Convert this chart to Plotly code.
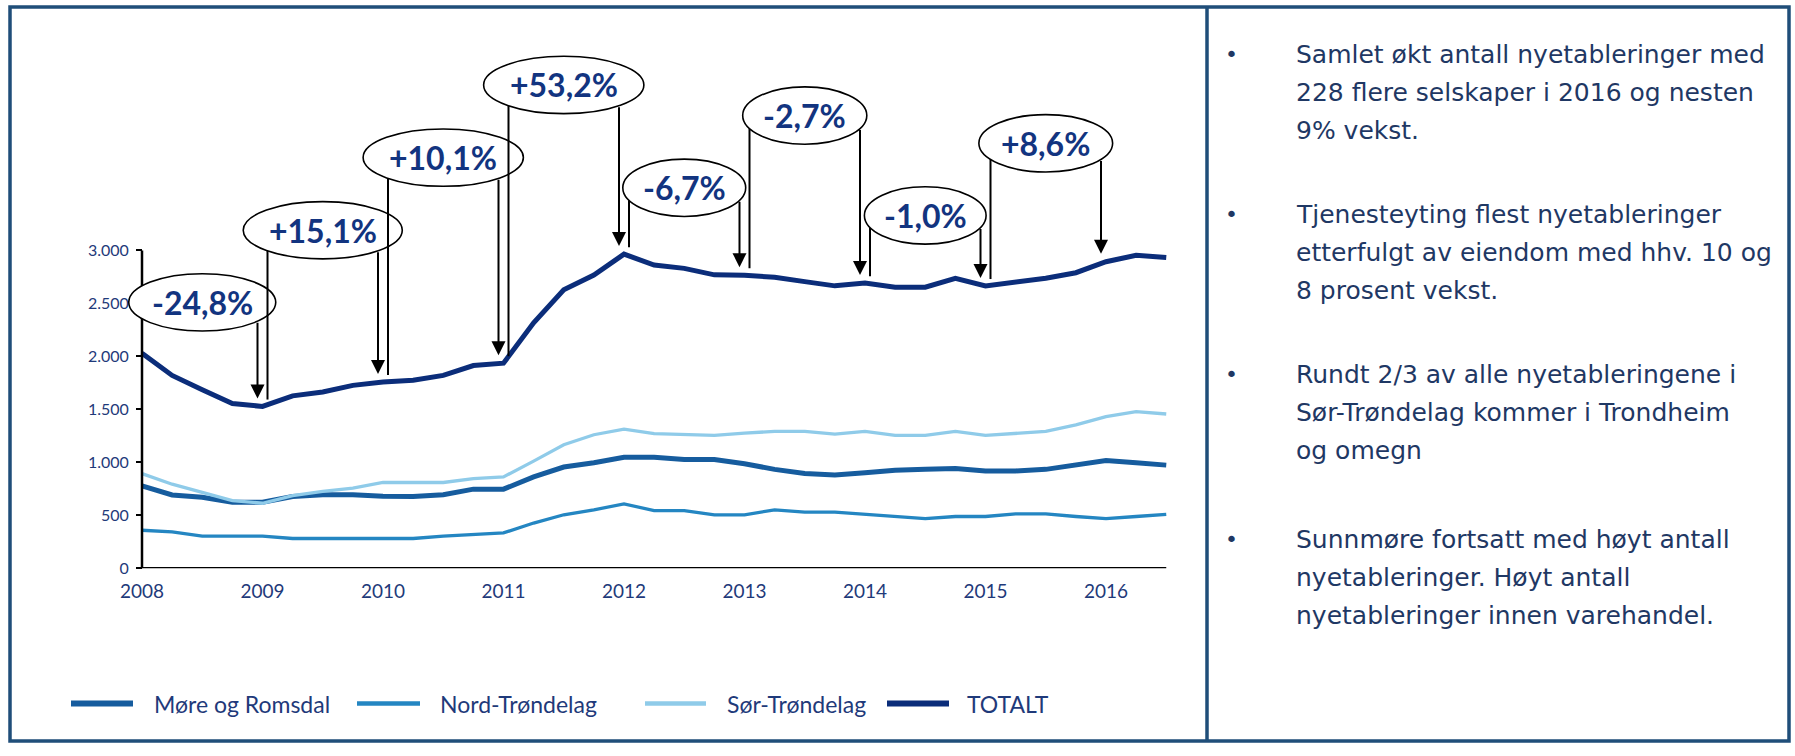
import math
import plotly.graph_objects as go

# ---- data: quarterly rolling counts of new companies ----
QUARTERS = [2008.00, 2008.25, 2008.50, 2008.75, 2009.00, 2009.25, 2009.50, 2009.75,
            2010.00, 2010.25, 2010.50, 2010.75, 2011.00, 2011.25, 2011.50, 2011.75,
            2012.00, 2012.25, 2012.50, 2012.75, 2013.00, 2013.25, 2013.50, 2013.75,
            2014.00, 2014.25, 2014.50, 2014.75, 2015.00, 2015.25, 2015.50, 2015.75,
            2016.00, 2016.25, 2016.50]
YEARS = [2008, 2009, 2010, 2011, 2012, 2013, 2014, 2015, 2016]
Y_TICKS = [0, 500, 1000, 1500, 2000, 2500, 3000]

MORE_OG_ROMSDAL = [778, 691, 669, 622, 622, 676, 694, 694, 680, 676, 694, 746, 746, 862,
                   955, 995, 1048, 1048, 1026, 1026, 986, 933, 893, 880, 902, 924, 933,
                   940, 918, 918, 933, 973, 1017, 995, 973]
NORD_TRONDELAG = [358, 342, 302, 302, 302, 280, 280, 280, 280, 280, 302, 317, 333, 426,
                  504, 551, 607, 544, 544, 504, 504, 551, 529, 529, 507, 488, 467, 488,
                  488, 513, 513, 488, 467, 488, 507]
SOR_TRONDELAG = [893, 793, 716, 638, 613, 684, 725, 756, 809, 809, 809, 846, 862, 1011,
                 1166, 1260, 1313, 1270, 1260, 1254, 1276, 1291, 1291, 1266, 1291, 1254,
                 1254, 1291, 1254, 1272, 1291, 1353, 1431, 1478, 1456]
TOTALT = [2030, 1820, 1685, 1555, 1527, 1627, 1664, 1726, 1758, 1775, 1820, 1913, 1936,
          2317, 2628, 2768, 2966, 2862, 2831, 2770, 2767, 2747, 2706, 2666, 2692, 2653,
          2653, 2737, 2665, 2697, 2737, 2790, 2894, 2955, 2933]

SERIES = [
    ("Møre og Romsdal", MORE_OG_ROMSDAL, "#165c9e", 5),
    ("Nord-Trøndelag", NORD_TRONDELAG, "#2486c2", 3.3),
    ("Sør-Trøndelag", SOR_TRONDELAG, "#8fcbe9", 3.3),
    ("TOTALT", TOTALT, "#0b2d7a", 5),
]

BULLETS = [
    ["Samlet økt antall nyetableringer med", "228 flere selskaper i 2016 og nesten", "9% vekst."],
    ["Tjenesteyting flest nyetableringer", "etterfulgt av eiendom med hhv. 10 og", "8 prosent vekst."],
    ["Rundt 2/3 av alle nyetableringene i", "Sør-Trøndelag kommer i Trondheim", "og omegn"],
    ["Sunnmøre fortsatt med høyt antall", "nyetableringer. Høyt antall", "nyetableringer innen varehandel."],
]

# ---- layout geometry (pixels) ----
W, H = 1795, 756
X0_PX, PX_PER_YEAR = 142, 120.5        # pixel of 2008 and width of one year
Y0_PX, PX_PER_UNIT = 575, 321.5 / 3000  # pixel of value 0 and scale
X_RANGE = [2007.8, 2016.7]
Y_RANGE = [0, 5200]
x_dom = [(X0_PX + (X_RANGE[0] - 2008) * PX_PER_YEAR) / W,
         (X0_PX + (X_RANGE[1] - 2008) * PX_PER_YEAR) / W]
y_dom = [(H - Y0_PX) / H, (H - (Y0_PX - Y_RANGE[1] * PX_PER_UNIT)) / H]

NAVY_TEXT = "#1f3a7a"
LABEL_TEXT = "#123480"
FRAME = "#1f4e79"

# change-label bubbles: vertical centre (value units) and width (years)
BOX_Y = [2510, 3191, 3877, 4563, 3592, 4274, 3331, 4012]
BOX_W = [1.22, 1.32, 1.33, 1.33, 1.02, 1.03, 1.01, 1.11]
BOX_H = 58 / PX_PER_UNIT
LEG_DX = 5 / PX_PER_YEAR
LEG_GAP = 7 / PX_PER_UNIT

fig = go.Figure()
for name, vals, color, width in SERIES:
    fig.add_trace(go.Scatter(x=QUARTERS, y=vals, name=name, mode="lines",
                             line=dict(color=color, width=width), showlegend=False))

shapes = [
    dict(type="line", xref="x", yref="y", x0=2008, x1=QUARTERS[-1], y0=0, y1=0,
         line=dict(color="black", width=2.5)),
    dict(type="line", xref="x", yref="y", x0=2008, x1=2008, y0=0, y1=Y_TICKS[-1],
         line=dict(color="black", width=2.5)),
]
annotations = []

annual = [TOTALT[QUARTERS.index(float(y))] for y in YEARS]
for k in range(len(YEARS) - 1):
    y0, y1 = YEARS[k], YEARS[k + 1]
    v0, v1 = annual[k], annual[k + 1]
    pct = (v1 / v0 - 1) * 100
    label = f"{pct:+.1f}%".replace(".", ",")
    cx, cy = (y0 + y1) / 2, BOX_Y[k]
    a, b = BOX_W[k] / 2, BOX_H / 2

    def rim(x):
        return cy - b * math.sqrt(max(0.0, 1 - ((x - cx) / a) ** 2))

    xl = y0 + (0 if k == 0 else LEG_DX)
    xr = y1 - LEG_DX
    shapes.append(dict(type="line", xref="x", yref="y", x0=xl, x1=xl,
                       y0=rim(xl), y1=v0 + LEG_GAP, line=dict(color="black", width=2)))
    shapes.append(dict(type="circle", xref="x", yref="y", x0=cx - a, x1=cx + a,
                       y0=cy - b, y1=cy + b, fillcolor="white",
                       line=dict(color="black", width=1.6)))
    annotations.append(dict(x=xr, y=v1, xref="x", yref="y", ax=xr, ay=rim(xr),
                            axref="x", ayref="y", text="", showarrow=True,
                            arrowhead=2, arrowsize=1.4, arrowwidth=2,
                            arrowcolor="black", standoff=8))
    annotations.append(dict(x=cx, y=cy, xref="x", yref="y", text=f"<b>{label}</b>",
                            showarrow=False,
                            font=dict(family="Lato", size=32, color=LABEL_TEXT)))

# legend drawn as line samples with labels
LEGEND_POS = [(71, 133, 152), (357, 420, 438), (645, 706, 725), (887, 949, 965)]
LEGEND_Y = 712
for (sx0, sx1, tx), (name, _, color, width) in zip(LEGEND_POS, SERIES):
    shapes.append(dict(type="line", xref="paper", yref="paper", x0=sx0 / W, x1=sx1 / W,
                       y0=1 - LEGEND_Y / H, y1=1 - LEGEND_Y / H,
                       line=dict(color=color, width=width + 1.2)))
    annotations.append(dict(x=tx / W, y=1 - LEGEND_Y / H, xref="paper", yref="paper",
                            text=name, showarrow=False, xanchor="left", yanchor="middle",
                            font=dict(family="Lato", size=23, color=NAVY_TEXT)))

# frame and divider
shapes.append(dict(type="rect", xref="paper", yref="paper", x0=10 / W, x1=1789 / W,
                   y0=1 - 750 / H, y1=1 - 7 / H, line=dict(color=FRAME, width=3.5)))
shapes.append(dict(type="line", xref="paper", yref="paper", x0=1207 / W, x1=1207 / W,
                   y0=1 - 750 / H, y1=1 - 7 / H, line=dict(color=FRAME, width=3.5)))

# bullet text panel
GROUP_TOP = [55, 217, 379, 546]
LINE_STEP = 38.5
for top, lines in zip(GROUP_TOP, BULLETS):
    annotations.append(dict(x=1231 / W, y=1 - top / H, xref="paper", yref="paper",
                            text="•", showarrow=False, xanchor="center", yanchor="middle",
                            font=dict(family="DejaVu Sans", size=22, color="#1f3864")))
    for j, line in enumerate(lines):
        annotations.append(dict(x=1294 / W, y=1 - (top + j * LINE_STEP) / H,
                                xref="paper", yref="paper", text=line, showarrow=False,
                                xanchor="left", yanchor="middle",
                                font=dict(family="DejaVu Sans", size=25, color="#1f3864")))

fig.update_layout(
    width=W, height=H, margin=dict(l=0, r=0, t=0, b=0),
    paper_bgcolor="white", plot_bgcolor="white",
    separators=",.",
    showlegend=False,
    xaxis=dict(range=X_RANGE, domain=x_dom, tickmode="array", tickvals=YEARS,
               ticktext=[str(y) for y in YEARS], showgrid=False, zeroline=False,
               showline=False, ticks="outside", ticklen=6, tickcolor="rgba(0,0,0,0)",
               tickfont=dict(family="Lato", size=19, color=NAVY_TEXT)),
    yaxis=dict(range=Y_RANGE, domain=y_dom, anchor="free", position=X0_PX / W,
               tickmode="array", tickvals=Y_TICKS, tickformat=",", showgrid=False,
               zeroline=False, showline=False, ticks="outside", ticklen=6, tickwidth=2,
               tickcolor="black", ticklabelstandoff=4,
               tickfont=dict(family="Lato", size=16, color=NAVY_TEXT)),
    shapes=shapes,
    annotations=annotations,
)

fig.write_html("out.html")
